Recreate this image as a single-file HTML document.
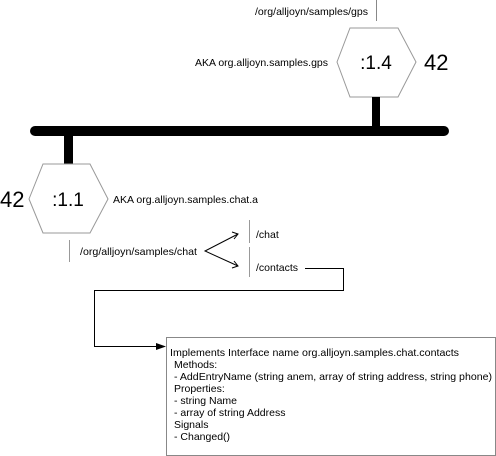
<!DOCTYPE html>
<html><head><style>
html,body{margin:0;padding:0;background:#fff;}
body{width:496px;height:456px;position:relative;overflow:hidden;font-family:"Liberation Sans",Arial,sans-serif;}
</style></head><body>
<svg width="496" height="456" viewBox="0 0 496 456" xmlns="http://www.w3.org/2000/svg" style="position:absolute;left:0;top:0">
<g font-family="Liberation Sans, Arial, sans-serif" fill="#000">
<line x1="376.5" y1="0" x2="376.5" y2="21" stroke="#888" stroke-width="1"/>
<text x="255" y="15" font-size="10.5" textLength="113" lengthAdjust="spacingAndGlyphs">/org/alljoyn/samples/gps</text>
<polygon points="337,62 350,28 398,28 416,62 398,97 350,97" fill="#fff" stroke="#999" stroke-width="1"/>
<text x="376" y="69" font-size="19" text-anchor="middle">:1.4</text>
<text x="424" y="70" font-size="22">42</text>
<text x="195" y="66" font-size="10.5" textLength="133" lengthAdjust="spacingAndGlyphs">AKA org.alljoyn.samples.gps</text>
<rect x="372" y="97" width="8" height="33" fill="#000"/>
<line x1="35" y1="131" x2="444" y2="131" stroke="#000" stroke-width="10" stroke-linecap="round"/>
<rect x="64" y="131" width="9" height="34" fill="#000"/>
<polygon points="29,199 43,164 90,164 108,199 90,233 43,233" fill="#fff" stroke="#999" stroke-width="1"/>
<text x="68" y="206" font-size="19" text-anchor="middle">:1.1</text>
<text x="0" y="207" font-size="22">42</text>
<text x="113" y="203" font-size="10.5" textLength="145" lengthAdjust="spacingAndGlyphs">AKA org.alljoyn.samples.chat.a</text>
<line x1="69.5" y1="240" x2="69.5" y2="262" stroke="#999"/>
<text x="80" y="255" font-size="10.5" textLength="117" lengthAdjust="spacingAndGlyphs">/org/alljoyn/samples/chat</text>
<polyline points="238,234 205,251 238,266" fill="none" stroke="#000" stroke-width="1"/>
<polyline points="232,232 238,234 234,239" fill="none" stroke="#000"/>
<polyline points="232,268 238,266 234,261" fill="none" stroke="#000"/>
<line x1="249.5" y1="220" x2="249.5" y2="243" stroke="#999"/>
<text x="256" y="238" font-size="10.5">/chat</text>
<line x1="249.5" y1="247" x2="249.5" y2="277" stroke="#999"/>
<text x="256" y="271" font-size="10.5">/contacts</text>
<polyline points="305,268.5 343.5,268.5 343.5,290.5 94.5,290.5 94.5,346.5 158,346.5" fill="none" stroke="#000" stroke-width="1"/>
<polygon points="156,343 166,346.5 156,350" fill="#000"/>
<rect x="166.5" y="337.5" width="329" height="118" fill="#fff" stroke="#888"/>
<g font-size="10.5">
<text x="170" y="356" textLength="289" lengthAdjust="spacingAndGlyphs">Implements Interface name org.alljoyn.samples.chat.contacts</text>
<text x="174" y="368">Methods:</text>
<text x="174" y="380" textLength="318" lengthAdjust="spacingAndGlyphs">- AddEntryName (string anem, array of string address, string phone)</text>
<text x="174" y="392">Properties:</text>
<text x="174" y="404">- string Name</text>
<text x="174" y="416">- array of string Address</text>
<text x="174" y="428">Signals</text>
<text x="174" y="440">- Changed()</text>
</g>
</g>
</svg>
</body></html>
